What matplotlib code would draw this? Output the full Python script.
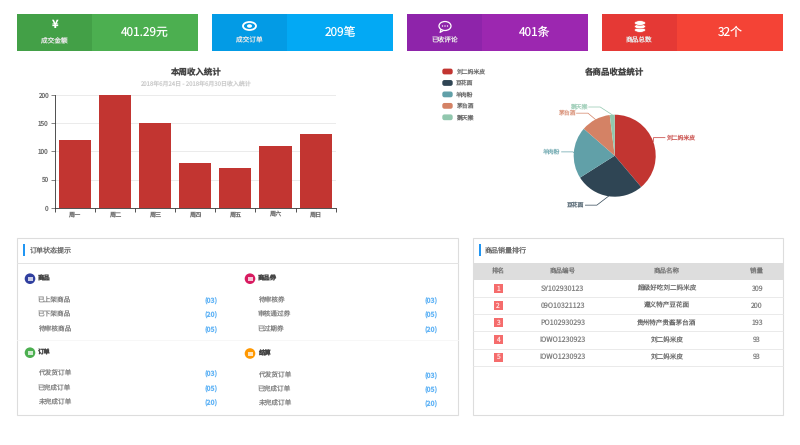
#!/usr/bin/env python3
"""Dashboard: stat cards, weekly income bars, product pie, order status and sales ranking."""

import matplotlib
matplotlib.use("Agg")
import matplotlib.pyplot as plt
import numpy as np
from matplotlib.patches import Circle, Ellipse, FancyBboxPatch, Rectangle

plt.rcParams["font.family"] = ["Noto Sans CJK SC", "DejaVu Sans"]
plt.rcParams["text.hinting"] = "no_hinting"

W, H = 800, 445

# data
card_labels = ["成交金额", "成交订单", "已收评论", "商品总数"]
card_values = ["401.29元", "209笔", "401条", "32个"]

days = ["周一", "周二", "周三", "周四", "周五", "周六", "周日"]
income = [120, 200, 150, 80, 70, 110, 130]

products = ["刘二妈米皮", "豆花面", "羊肉粉", "茅台酒", "鹅天猴"]
product_income = [40, 28, 21, 12, 2]

status_titles = ["商品", "商品券", "订单", "结算"]
status_items = [
    ["已上架商品", "已下架商品", "待审核商品"],
    ["待审核券", "审核通过券", "已过期券"],
    ["代发货订单", "已完成订单", "未完成订单"],
    ["代发货订单", "已完成订单", "未完成订单"],
]
status_counts = [
    ["(03)", "(20)", "(05)"],
    ["(03)", "(05)", "(20)"],
    ["(03)", "(05)", "(20)"],
    ["(03)", "(05)", "(20)"],
]

rank_header = ["排名", "商品编号", "商品名称", "销量"]
rank_no = ["1", "2", "3", "4", "5"]
rank_code = ["SY102930123", "09O10321123", "PO102930293", "IOWO1230923", "IOWO1230923"]
rank_name = ["超级好吃刘二妈米皮", "遵义特产豆花面", "贵州特产贵酱茅台酒", "刘二妈米皮", "刘二妈米皮"]
rank_sales = ["309", "200", "193", "93", "93"]

# styles
card_x = [17, 212, 407, 602]
card_light = ["#4CAF50", "#03A9F4", "#9C27B0", "#F44336"]
card_dark = ["#43A047", "#039BE5", "#8E24AA", "#E53935"]
pie_colors = ["#C23531", "#2F4554", "#61A0A8", "#D48265", "#91C7AE"]
icon_colors = ["#303F9F", "#D81B60", "#4CAF50", "#FF9800"]
# pie label elbow, relative to the slice middle at radius 1.22
label_shift = [(-0.2, 0.02), (-0.25, 0.0), (0.2, 0.0), (-0.08, -0.04), (-0.28, -0.03)]

fig = plt.figure(figsize=(W / 100, H / 100), dpi=100)
bg = fig.add_axes([0, 0, 1, 1])
bg.set_xlim(0, W)
bg.set_ylim(H, 0)
bg.axis("off")


def box(x0, y0, x1, y1, **kw):
    bg.add_patch(Rectangle((x0, y0), x1 - x0, y1 - y0, **kw))


def label(x, y, s, size=5.0, color="#707070", ha="left", **kw):
    bg.text(x, y, s, fontsize=size, color=color, ha=ha, va="center", **kw)


# top cards
for i, x in enumerate(card_x):
    box(x, 14, x + 181, 51, fc=card_light[i], ec="none")
    box(x, 14, x + 75, 51, fc=card_dark[i], ec="none")
    label(x + 37.5, 40, card_labels[i], size=4.8, color="#E8E8E8", ha="center")
    label(x + 128, 32.5, card_values[i], size=8.5, color="white", ha="center")

# card icons
label(54.5, 25, "¥", size=8, color="white", ha="center", fontweight="bold")
bg.add_patch(Ellipse((249.5, 26), 13, 8, fc="none", ec="white", lw=1.3))
bg.add_patch(Ellipse((249.5, 26), 5, 3.5, fc="white", ec="none"))
bg.add_patch(Ellipse((445, 26), 12, 9, fc="none", ec="white", lw=0.9))
for dx in (-2.5, 0, 2.5):
    bg.add_patch(Circle((445 + dx, 26), 0.7, fc="white", ec="none"))
bg.plot([441, 440, 443], [29.5, 32.5, 30.8], color="white", lw=0.8)
for cy in (30, 26.5, 23):
    bg.add_patch(Ellipse((640, cy), 11, 4.6, fc="white", ec=card_dark[3], lw=0.4))

# bar chart
left, right, top, bottom = 54.5, 335.7, 94.7, 208
ax = fig.add_axes([left / W, 1 - bottom / H, (right - left) / W, (bottom - top) / H])
ax.patch.set_alpha(0)
x_pos = np.arange(len(days))
ax.bar(x_pos, income, width=0.8, color=pie_colors[0], zorder=3)
ax.set_xlim(-0.5, len(days) - 0.5)
ax.set_ylim(0, 200)
ax.set_yticks([0, 50, 100, 150, 200])
ax.set_xticks(np.arange(len(days) + 1) - 0.5)
ax.set_xticklabels([])
ax.set_xticks(x_pos, minor=True)
ax.set_xticklabels(days, minor=True)
ax.tick_params(axis="x", which="minor", length=0, labelsize=4.4, colors="#707070", pad=2.5)
ax.tick_params(axis="x", which="major", length=3, width=0.6, color="#333333")
ax.tick_params(axis="y", length=3, width=0.6, labelsize=4.6, colors="#707070", pad=1.5)
ax.grid(axis="y", color="#E8E8E8", lw=0.6, zorder=0)
ax.set_axisbelow(True)
for side in ("top", "right"):
    ax.spines[side].set_visible(False)
for side in ("left", "bottom"):
    ax.spines[side].set_linewidth(0.6)
    ax.spines[side].set_color("#333333")

label(195, 72.5, "本周收入统计", size=6.1, color="#444444", ha="center", fontweight="bold")
label(195, 84.3, "2018年6月24日 - 2018年6月30日收入统计", size=4.3, color="#CCCCCC", ha="center")

# pie chart
cx, cy, r = 614.7, 155.7, 41
pie_ax = fig.add_axes([(cx - r) / W, 1 - (cy + r) / H, 2 * r / W, 2 * r / H])
pie_ax.patch.set_alpha(0)
wedges, _ = pie_ax.pie(product_income, colors=pie_colors, startangle=90, counterclock=False,
                       radius=1, wedgeprops={"linewidth": 0})
pie_ax.set_xlim(-1, 1)
pie_ax.set_ylim(-1, 1)

for w, name, color, (sx, sy) in zip(wedges, products, pie_colors, label_shift):
    theta = np.radians((w.theta1 + w.theta2) / 2)
    ux, uy = np.cos(theta), np.sin(theta)
    ex, ey = 1.22 * ux + sx, 1.22 * uy + sy
    step = 0.28 if ux > 0 else -0.28
    pie_ax.plot([ux, ex, ex + step], [uy, ey, ey], color=color, lw=0.5, clip_on=False)
    pie_ax.text(ex + step * 1.08, ey, name, fontsize=4.2, color=color, alpha=0.8, va="center",
                ha="left" if ux > 0 else "right", clip_on=False)

label(614, 72.5, "各商品收益统计", size=6.1, color="#444444", ha="center", fontweight="bold")

# pie legend
for i, (name, color) in enumerate(zip(products, pie_colors)):
    y = 71.5 + i * 11.45
    bg.add_patch(FancyBboxPatch((443, y - 2.2), 9, 4.4, boxstyle="round,pad=0,rounding_size=1.5",
                                fc=color, ec=color, lw=1))
    label(456, y, name, size=4.2)

# order status panel
box(16.5, 237.5, 458, 415, fc="white", ec="#DDDDDD", lw=0.8)
bg.plot([17, 458], [263, 263], color="#E3E3E3", lw=0.7)
box(23, 244, 24.8, 256, fc="#2196F3", ec="none")
label(30, 250, "订单状态提示", size=5.05)
bg.plot([17, 458], [340, 340], color="#F6F6F6", lw=0.6)

head_pos = [(30, 278.7), (250, 278.7), (30, 352.7), (250, 353.5)]
row_y = [[300, 314.7, 329], [300, 314.7, 329], [373.7, 388, 402], [375, 389.5, 403.5]]
for i, (x, y) in enumerate(head_pos):
    bg.add_patch(Circle((x, y), 5.3, fc=icon_colors[i], ec="none"))
    bg.add_patch(Rectangle((x - 2.5, y - 2), 5, 4, fc="white", ec="none", alpha=0.75))
    label(x + 8, y, status_titles[i], size=4.6, color="#444444", fontweight="bold")
    for item, count, ry in zip(status_items[i], status_counts[i], row_y[i]):
        label(x + 8, ry, item, size=4.8, color="#858585")
        label(x + 188, ry, count, size=4.9, color="#64B5F6", ha="right", fontweight="bold")

# ranking panel
box(472.5, 237.5, 783, 415, fc="white", ec="#DDDDDD", lw=0.8)
box(479, 244, 480.8, 256, fc="#2196F3", ec="none")
label(485, 250, "商品销量排行", size=5.05)
box(473, 262.7, 783, 279.7, fc="#DDDDDD", ec="none")

col_x = [498, 563, 667, 757]
for x, name in zip(col_x, rank_header):
    label(x, 271, name, size=4.7, color="#777777", ha="center")

for i, (no, code, name, sales) in enumerate(zip(rank_no, rank_code, rank_name, rank_sales)):
    y = 288.5 + i * 17.15
    box(493.5, y - 4.5, 503, y + 4.5, fc="#F56C6C", ec="none")
    label(498.2, y, no, size=4.8, color="#FFE0E0", ha="center")
    label(col_x[1], y, code, size=5.1, color="#858585", ha="center")
    label(col_x[2], y, name, size=4.75, ha="center")
    label(col_x[3], y, sales, size=5.0, color="#858585", ha="center")
    bg.plot([473, 783], [y + 8.6, y + 8.6], color="#E6E6E6", lw=0.6)

fig.savefig("out.png", dpi=100)
